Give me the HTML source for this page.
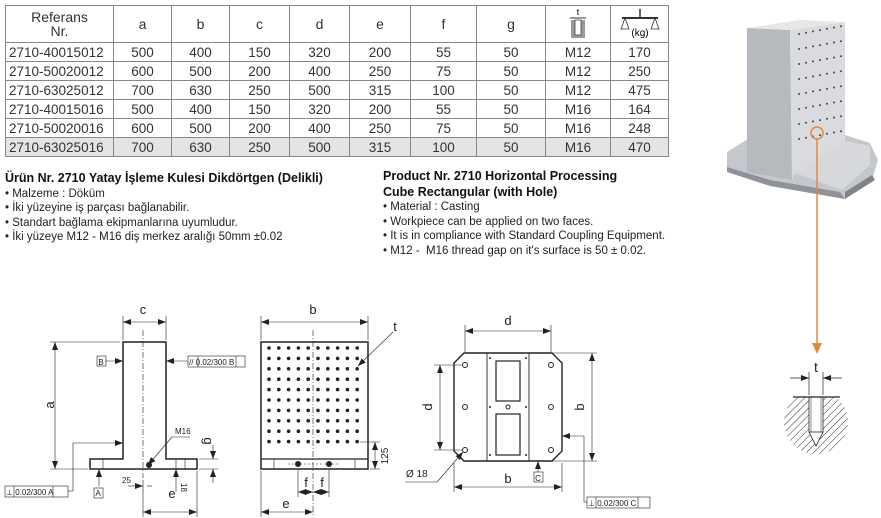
<!DOCTYPE html>
<html><head><meta charset="utf-8"><style>
body{margin:0;background:#fff;width:881px;height:518px;overflow:hidden;position:relative;font-family:"Liberation Sans",Arial,sans-serif;color:#222}
table{position:absolute;left:5px;top:5px;border-collapse:collapse;font-size:13.5px;color:#333}
td{border:1px solid #888;text-align:center;padding:0;height:18px}
tr.h td{height:36px;font-size:14px}
tr.g td{background:#e3e4e6}
td.l{text-align:left;padding-left:3px}
.tx{position:absolute;font-size:11.5px;line-height:14.5px;color:#222}
.tx b{font-size:12.5px;color:#111}
</style></head><body>
<table>
<colgroup><col style="width:108px"><col style="width:58px"><col style="width:58px"><col style="width:60px"><col style="width:60px"><col style="width:61px"><col style="width:66px"><col style="width:69px"><col style="width:65px"><col style="width:58px"></colgroup>
<tr class="h"><td style="line-height:14px">Referans<br>Nr.</td><td>a</td><td>b</td><td>c</td><td>d</td><td>e</td><td>f</td><td>g</td><td><svg width="24" height="32" viewBox="0 0 24 32"><text x="12" y="8" font-size="9" text-anchor="middle" font-family="Liberation Sans">t</text><line x1="4" y1="11" x2="20" y2="11" stroke="#333"/><rect x="5" y="13" width="14" height="18" fill="#999"/><rect x="9" y="13" width="6" height="15" fill="#fff" stroke="#333" stroke-width=".7"/></svg></td><td><svg width="44" height="32" viewBox="0 0 44 32"><line x1="22" y1="2" x2="22" y2="10" stroke="#333" stroke-width="1.5"/><line x1="4" y1="11" x2="40" y2="11" stroke="#333" stroke-width="2"/><path d="M7 11 L3 22 L11 22 Z M37 11 L33 22 L41 22 Z" fill="none" stroke="#333" stroke-width=".8"/><text x="22" y="29" font-size="10" text-anchor="middle" font-family="Liberation Sans">(kg)</text></svg></td></tr>
<tr><td class="l">2710-40015012</td><td>500</td><td>400</td><td>150</td><td>320</td><td>200</td><td>55</td><td>50</td><td>M12</td><td>170</td></tr>
<tr><td class="l">2710-50020012</td><td>600</td><td>500</td><td>200</td><td>400</td><td>250</td><td>75</td><td>50</td><td>M12</td><td>250</td></tr>
<tr><td class="l">2710-63025012</td><td>700</td><td>630</td><td>250</td><td>500</td><td>315</td><td>100</td><td>50</td><td>M12</td><td>475</td></tr>
<tr><td class="l">2710-40015016</td><td>500</td><td>400</td><td>150</td><td>320</td><td>200</td><td>55</td><td>50</td><td>M16</td><td>164</td></tr>
<tr><td class="l">2710-50020016</td><td>600</td><td>500</td><td>200</td><td>400</td><td>250</td><td>75</td><td>50</td><td>M16</td><td>248</td></tr>
<tr class="g"><td class="l">2710-63025016</td><td>700</td><td>630</td><td>250</td><td>500</td><td>315</td><td>100</td><td>50</td><td>M16</td><td>470</td></tr>
</table>
<div class="tx" style="left:5px;top:171px"><b>Ürün Nr. 2710 Yatay İşleme Kulesi Dikdörtgen (Delikli)</b><br>• Malzeme : Döküm<br>• İki yüzeyine iş parçası bağlanabilir.<br>• Standart bağlama ekipmanlarına uyumludur.<br>• İki yüzeye M12 - M16 diş merkez aralığı 50mm ±0.02</div>
<div class="tx" style="left:383px;top:169px"><b>Product Nr. 2710 Horizontal Processing<br>Cube Rectangular (with Hole)</b><br>• Material : Casting<br>• Workpiece can be applied on two faces.<br>• It is in compliance with Standard Coupling Equipment.<br>• M12 -&nbsp; M16 thread gap on it's surface is 50 ± 0.02.</div>
<svg style="position:absolute;left:0;top:0" width="881" height="518" viewBox="0 0 881 518" font-family="Liberation Sans" fill="none" stroke="#222">
<defs><marker id="ar" markerWidth="8" markerHeight="6" refX="8" refY="3" orient="auto-start-reverse" markerUnits="userSpaceOnUse"><path d="M0 0L8 3L0 6Z" fill="#222" stroke="none"/></marker>
<pattern id="hp" width="5" height="5" patternUnits="userSpaceOnUse" patternTransform="rotate(45)"><line x1="0" y1="0" x2="0" y2="5" stroke="#333" stroke-width="1"/></pattern>
<clipPath id="cc"><circle cx="816" cy="422" r="32"/></clipPath></defs>
<!-- left view -->
<g stroke-width="1.5"><path d="M123 342 H166 V459 H197 V469 H90 V459 H123 Z"/></g>
<g stroke-width=".6">
<line x1="103" y1="459" x2="103" y2="469"/><line x1="185" y1="459" x2="185" y2="469"/><line x1="176" y1="459" x2="176" y2="469"/>
<line x1="143" y1="330" x2="143" y2="478" stroke-dasharray="6 2 1 2"/>
<line x1="123" y1="316" x2="123" y2="340"/><line x1="166" y1="316" x2="166" y2="340"/>
<line x1="123" y1="322" x2="166" y2="322" marker-start="url(#ar)" marker-end="url(#ar)"/>
<line x1="50" y1="342" x2="120" y2="342"/><line x1="50" y1="469" x2="88" y2="469"/>
<line x1="55" y1="342" x2="55" y2="469" marker-start="url(#ar)" marker-end="url(#ar)"/>
<line x1="105" y1="361" x2="123" y2="361" marker-end="url(#ar)"/>
<line x1="188" y1="361" x2="166" y2="361" marker-end="url(#ar)"/>
<line x1="68" y1="491" x2="73" y2="491"/><line x1="73" y1="491" x2="73" y2="443"/><line x1="73" y1="443" x2="123" y2="443" marker-end="url(#ar)"/>
<line x1="99" y1="486" x2="99" y2="469" marker-end="url(#ar)"/>
<line x1="172" y1="437" x2="148" y2="465" marker-end="url(#ar)"/><line x1="172" y1="437" x2="190" y2="437"/>
<line x1="199" y1="459" x2="218" y2="459"/><line x1="199" y1="469" x2="218" y2="469"/>
<line x1="213" y1="445" x2="213" y2="459" marker-end="url(#ar)"/><line x1="213" y1="483" x2="213" y2="469" marker-end="url(#ar)"/>
<line x1="128" y1="486" x2="143" y2="486" marker-end="url(#ar)"/><line x1="152" y1="486" x2="147" y2="486"/>
<line x1="176" y1="492" x2="176" y2="469" marker-end="url(#ar)"/>
<line x1="143" y1="480" x2="143" y2="517"/><line x1="197" y1="471" x2="197" y2="517"/>
<line x1="143" y1="512" x2="197" y2="512" marker-start="url(#ar)" marker-end="url(#ar)"/>
<rect x="97" y="356" width="9" height="10"/><rect x="94" y="488" width="9" height="10"/>
<rect x="5" y="486" width="63" height="11"/><line x1="14" y1="486" x2="14" y2="497"/><line x1="53" y1="486" x2="53" y2="497"/>
<rect x="188" y="356" width="57" height="11"/><line x1="198" y1="356" x2="198" y2="367"/><line x1="236" y1="356" x2="236" y2="367"/>
</g>
<circle cx="149" cy="465" r="2.5" fill="#222"/>
<g fill="#222" stroke="none" font-size="13">
<text x="143" y="314" text-anchor="middle">c</text>
<text x="49" y="410" transform="rotate(-90 49 405)" text-anchor="middle">a</text>
<text x="172" y="498" font-size="13" x="172" y="505" text-anchor="middle">e</text>
<text x="175" y="434" font-size="8">M16</text>
<text x="122" y="483" font-size="8">25</text>
<text x="181" y="483" font-size="8" transform="rotate(90 181 483)">18</text>
<text x="204" y="441" transform="rotate(90 204 441)" text-anchor="middle">g</text>
<text x="101" y="365" font-size="8" text-anchor="middle">B</text><text x="98" y="496" font-size="8" text-anchor="middle">A</text>
<text x="6" y="495" font-size="8">⊥ 0.02/300  A</text>
<text x="189" y="365" font-size="8">// 0.02/300  B</text>
</g>
<!-- middle view -->
<rect x="261" y="342" width="107" height="127" stroke-width="1.5"/>
<g stroke-width=".6">
<line x1="261" y1="459" x2="368" y2="459" stroke-width="1.3"/>
<line x1="274" y1="459" x2="274" y2="469"/><line x1="355" y1="459" x2="355" y2="469"/>
<line x1="313" y1="330" x2="313" y2="517" stroke-dasharray="6 2 1 2"/>
<line x1="261" y1="316" x2="261" y2="340"/><line x1="368" y1="316" x2="368" y2="340"/>
<line x1="261" y1="322" x2="368" y2="322" marker-start="url(#ar)" marker-end="url(#ar)"/>
<line x1="393" y1="332" x2="358" y2="366" marker-end="url(#ar)"/>
<line x1="360" y1="442" x2="380" y2="442"/><line x1="370" y1="469" x2="380" y2="469"/>
<line x1="375" y1="442" x2="375" y2="469" marker-start="url(#ar)" marker-end="url(#ar)"/>
<line x1="298" y1="470" x2="298" y2="497"/><line x1="329" y1="470" x2="329" y2="497"/>
<line x1="298" y1="492" x2="313" y2="492" marker-start="url(#ar)" marker-end="url(#ar)"/>
<line x1="313" y1="492" x2="329" y2="492" marker-start="url(#ar)" marker-end="url(#ar)"/>
<line x1="261" y1="471" x2="261" y2="517"/>
<line x1="261" y1="512" x2="313" y2="512" marker-start="url(#ar)" marker-end="url(#ar)"/>
<line x1="288" y1="464" x2="340" y2="464" stroke-dasharray="2 2"/>
</g>
<circle cx="298" cy="464" r="2.5" fill="#222"/><circle cx="329" cy="464" r="2.5" fill="#222"/>
<g fill="#222" stroke="none" id="dots"></g>
<g fill="#222" stroke="none" font-size="13">
<text x="313" y="314" text-anchor="middle">b</text><text x="395" y="331" text-anchor="middle">t</text>
<text x="388" y="456" font-size="10" transform="rotate(-90 388 456)" text-anchor="middle">125</text>
<text x="306" y="487" text-anchor="middle">f</text><text x="322" y="487" text-anchor="middle">f</text>
<text x="286" y="508" text-anchor="middle">e</text>
</g>
<!-- right view -->
<path d="M464 353 H552 L562 363 V451 L552 461 H464 L454 451 V363 Z" stroke-width="1.4"/>
<g stroke-width=".9"><line x1="487" y1="353" x2="487" y2="461"/><line x1="529" y1="353" x2="529" y2="461"/>
<rect x="496" y="361" width="24" height="40" stroke-width="1.2"/><rect x="496" y="414" width="24" height="41" stroke-width="1.2"/></g>
<g fill="none" stroke="#222" stroke-width="1"><circle cx="465" cy="365" r="2.5"/><circle cx="465" cy="407" r="2.5"/><circle cx="465" cy="450" r="2.5"/><circle cx="551" cy="365" r="2.5"/><circle cx="551" cy="407" r="2.5"/><circle cx="551" cy="450" r="2.5"/><circle cx="508" cy="407" r="2"/></g>
<g fill="#222" stroke="none"><circle cx="490" cy="358" r="1"/><circle cx="526" cy="358" r="1"/><circle cx="490" cy="407" r="1"/><circle cx="526" cy="407" r="1"/><circle cx="490" cy="455" r="1"/><circle cx="526" cy="455" r="1"/></g>
<g stroke-width=".6">
<line x1="465" y1="325" x2="465" y2="352"/><line x1="551" y1="325" x2="551" y2="352"/>
<line x1="465" y1="331" x2="551" y2="331" marker-start="url(#ar)" marker-end="url(#ar)"/>
<line x1="434" y1="365" x2="462" y2="365"/><line x1="434" y1="450" x2="462" y2="450"/>
<line x1="440" y1="365" x2="440" y2="450" marker-start="url(#ar)" marker-end="url(#ar)"/>
<line x1="553" y1="353" x2="597" y2="353"/><line x1="553" y1="461" x2="597" y2="461"/>
<line x1="592" y1="353" x2="592" y2="461" marker-start="url(#ar)" marker-end="url(#ar)"/>
<line x1="454" y1="463" x2="454" y2="492"/><line x1="562" y1="463" x2="562" y2="492"/>
<line x1="454" y1="487" x2="562" y2="487" marker-start="url(#ar)" marker-end="url(#ar)"/>
<line x1="405" y1="482" x2="437" y2="482"/><line x1="437" y1="482" x2="463" y2="452" marker-end="url(#ar)"/>
<line x1="538" y1="472" x2="538" y2="461" marker-end="url(#ar)"/>
<rect x="534" y="472" width="9" height="10"/>
<line x1="587" y1="502" x2="584" y2="502"/><line x1="584" y1="502" x2="584" y2="436"/><line x1="584" y1="436" x2="562" y2="436" marker-end="url(#ar)"/>
<rect x="587" y="497" width="63" height="11"/><line x1="596" y1="497" x2="596" y2="508"/><line x1="638" y1="497" x2="638" y2="508"/>
</g>
<g fill="#222" stroke="none" font-size="13">
<text x="508" y="325" text-anchor="middle">d</text>
<text x="432" y="407" transform="rotate(-90 432 407)" text-anchor="middle">d</text>
<text x="584" y="407" transform="rotate(-90 584 407)" text-anchor="middle">b</text>
<text x="508" y="483" text-anchor="middle">b</text>
<text x="406" y="477" font-size="10">Ø 18</text>
<text x="538" y="481" font-size="8" text-anchor="middle">C</text>
<text x="588" y="506" font-size="8">⊥ 0.02/300  C</text>
</g>
<!-- photo -->
<g stroke="none">
<path d="M727 152 L748 139 L845 135 L870 143 L878 160 L872 180 L845 199 L770 185 L727 172 Z" fill="#c4c7cb"/>
<path d="M727 167 L770 180 L840 192 L845 199 L770 186 L727 172 Z" fill="#8f9399"/>
<path d="M845 192 L872 175 L875 180 L845 199 Z" fill="#80848a"/>
<path d="M795 173 L845 141 L870 146 L870 165 L842 190 Z" fill="#d6d8db"/>
<path d="M747 28 L790 30 L792 180 L747 172 Z" fill="#b6b9bd"/>
<path d="M790 30 L845 22 L845 142 L795 173 L792 180 Z" fill="#d9dbde"/>
<path d="M747 28 L790 30 L845 22 L800 20 Z" fill="#e6e7e9"/>
</g>
<g fill="#444" stroke="none" id="pdots"></g>
<g stroke="#e08a3c" stroke-width="1.5"><circle cx="817" cy="133" r="6" fill="none"/><line x1="817" y1="139" x2="817" y2="345"/></g>
<path d="M812 343 L822 343 L817 354 Z" fill="#e08a3c" stroke="none"/>
<!-- detail -->
<g clip-path="url(#cc)"><rect x="780" y="397" width="72" height="60" fill="url(#hp)" stroke="none"/></g>
<path d="M809 397 V432 L816 446 L823 432 V397 Z" fill="#fff" stroke="#222" stroke-width=".8"/>
<line x1="809" y1="432" x2="823" y2="432" stroke-width=".8"/>
<line x1="811" y1="397" x2="811" y2="432" stroke-width=".5"/><line x1="821" y1="397" x2="821" y2="432" stroke-width=".5"/>
<line x1="793" y1="397" x2="840" y2="397" stroke-width="1.3"/>
<g stroke-width=".7"><line x1="809" y1="372" x2="809" y2="395"/><line x1="823" y1="372" x2="823" y2="395"/>
<line x1="790" y1="378" x2="809" y2="378" marker-end="url(#ar)"/><line x1="842" y1="378" x2="823" y2="378" marker-end="url(#ar)"/></g>
<text x="816" y="372" font-size="14" fill="#222" stroke="none" text-anchor="middle">t</text>
</svg>
<script>
var ns="http://www.w3.org/2000/svg",g=document.getElementById("dots");
for(var i=0;i<10;i++)for(var j=0;j<10;j++){var c=document.createElementNS(ns,"circle");c.setAttribute("cx",269+j*9.8);c.setAttribute("cy",348+i*10.4);c.setAttribute("r",1.8);g.appendChild(c);}
var p=document.getElementById("pdots");
for(var i=0;i<8;i++)for(var j=0;j<7;j++){var x=799+j*7,y=34+i*15-j*1.3+j*0;var c=document.createElementNS(ns,"circle");c.setAttribute("cx",x);c.setAttribute("cy",y);c.setAttribute("r",1);p.appendChild(c);}
</script>
</body></html>
